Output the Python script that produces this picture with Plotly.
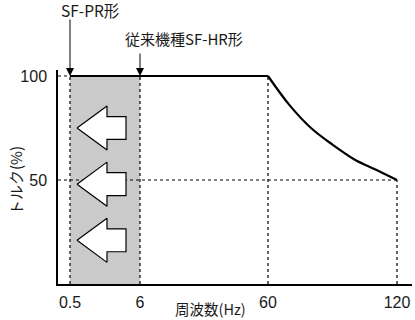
import numpy as np
import plotly.graph_objects as go

# ---- data ----
tick_freq = [0.5, 6, 60, 120]
tick_labels = ["0.5", "6", "60", "120"]
y_ticks = [50, 100]
flat_freq = [0.5, 60]
flat_torque = [100, 100]
curve_freq = [60, 70, 80, 90, 100, 110, 120]
curve_torque = [100, 86, 75, 67, 60, 55, 50]
band_freq = [0.5, 6]
band_torque = 100
arrow_levels = [75, 48, 21]
label_pr = "SF-PR形"
label_hr = "従来機種SF-HR形"

# non-uniform frequency axis as drawn (positions of the tick frequencies)
tick_pos = [12, 82, 210, 339]


def pos(f):
    return np.interp(f, tick_freq, tick_pos)


FONT = "Liberation Sans, Noto Sans CJK JP, sans-serif"
JFONT = "Noto Sans CJK JP, sans-serif"
TXT = "#1a1a1a"
DOT = dict(color="black", width=1.2, dash="dot")

fig = go.Figure()

# gray band
x0, x1 = pos(band_freq[0]), pos(band_freq[1])
fig.add_trace(go.Scatter(x=[x0, x1, x1, x0, x0], y=[0, 0, band_torque, band_torque, 0],
                         fill="toself", fillcolor="#cacaca", line=dict(width=0),
                         mode="lines", hoverinfo="skip"))

# dotted guides
fig.add_trace(go.Scatter(x=[0, pos(0.5)], y=[100, 100], mode="lines", line=DOT))
fig.add_trace(go.Scatter(x=[0, pos(120)], y=[50, 50], mode="lines", line=DOT))
for f, top in [(0.5, 100), (6, 100), (60, 100), (120, 50)]:
    fig.add_trace(go.Scatter(x=[pos(f), pos(f)], y=[0, top], mode="lines", line=DOT))

# left arrows
tip, back, end = 19, 49, 68
hh, bh = 10.6, 5.5
for yc in arrow_levels:
    xs = [tip, back, back, end, end, back, back, tip]
    ys = [yc, yc + hh, yc + bh, yc + bh, yc - bh, yc - bh, yc - hh, yc]
    fig.add_trace(go.Scatter(x=xs, y=ys, fill="toself", fillcolor="white",
                             line=dict(color="black", width=1.2), mode="lines"))

# torque characteristic
fig.add_trace(go.Scatter(x=pos(flat_freq), y=flat_torque, mode="lines",
                         line=dict(color="black", width=2.2)))
fig.add_trace(go.Scatter(x=pos(curve_freq), y=curve_torque, mode="lines",
                         line=dict(color="black", width=2.2, shape="spline")))

annotations = [
    dict(x=pos(0.5), y=100, xref="x", yref="y", text="", showarrow=True,
         ax=0, ay=-58, arrowhead=2, arrowsize=1.6, arrowwidth=1, arrowcolor="black"),
    dict(x=pos(6), y=100, xref="x", yref="y", text="", showarrow=True,
         ax=0, ay=-24, arrowhead=2, arrowsize=1.6, arrowwidth=1, arrowcolor="black"),
    dict(x=pos(0.5), y=100, xref="x", yref="y", text=label_pr, showarrow=False,
         xanchor="center", yanchor="middle",
         xshift=20, yshift=66, font=dict(size=15.5, color=TXT, family=JFONT)),
    dict(x=pos(6), y=100, xref="x", yref="y", text=label_hr, showarrow=False,
         xanchor="center", yanchor="middle",
         xshift=44, yshift=38, font=dict(size=15, color=TXT, family=JFONT)),
    dict(x=(15 - 58) / 354, y=(284 - 181) / 214, xref="paper", yref="paper",
         text="トルク(%)", textangle=-90, xanchor="center", yanchor="middle",
         showarrow=False, font=dict(size=15, color=TXT, family=JFONT)),
    dict(x=(210 - 58) / 354, y=(284 - 308) / 214, xref="paper", yref="paper",
         text="周波数(Hz)", xanchor="center", yanchor="middle",
         showarrow=False, font=dict(size=14.5, color=TXT, family=JFONT)),
]

fig.update_layout(
    width=415, height=320,
    margin=dict(l=58, r=3, t=70, b=36),
    paper_bgcolor="white", plot_bgcolor="white",
    showlegend=False,
    annotations=annotations,
    font=dict(family=FONT, size=14, color=TXT),
)
fig.update_xaxes(range=[0, 354], tickvals=tick_pos, ticktext=tick_labels,
                 showgrid=False, zeroline=False, showline=True, linecolor="black",
                 linewidth=1.5, ticks="", ticklabelstandoff=3,
                 tickfont=dict(size=16, family=FONT, color=TXT))
fig.update_yaxes(range=[0, 214 / 2.08], tickvals=y_ticks, ticktext=[str(v) for v in y_ticks],
                 showgrid=False, zeroline=False, showline=True, linecolor="black",
                 linewidth=1.5, ticks="", ticklabelstandoff=6,
                 tickfont=dict(size=16, family=FONT, color=TXT))

fig.write_html("out.html")
